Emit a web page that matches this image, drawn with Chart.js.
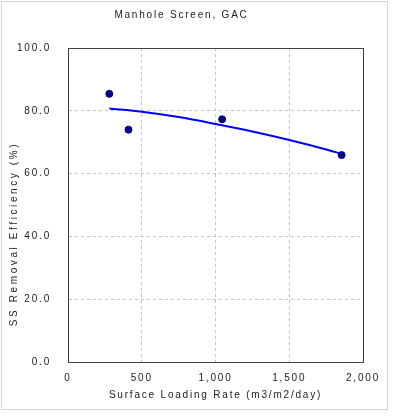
<!DOCTYPE html>
<html>
<head>
<meta charset="utf-8">
<script src="https://cdn.jsdelivr.net/npm/chart.js@4.4.0/dist/chart.umd.min.js"></script>
<style>
  html, body { margin: 0; padding: 0; background: #fff; }
  #wrap { width: 393px; height: 417px; }
</style>
</head>
<body>
<div id="wrap"><canvas id="chart" width="393" height="417"></canvas></div>
<script>
const loadingRate = [280, 410, 1045, 1855];
const efficiency = [85.4, 74.0, 77.3, 65.9];

const trendRate = [280, 500, 750, 1000, 1250, 1500, 1750, 1855];
const trendEff = [80.7, 79.7, 78.0, 75.8, 73.4, 70.7, 67.7, 66.3];

const xTicks = [0, 500, 1000, 1500, 2000];
const yTicks = [0, 20, 40, 60, 80, 100];

const textFont = { family: '"Liberation Sans Narrow", "Liberation Sans", Arial, sans-serif', size: 10, weight: 'normal' };
const spacing = '1.8px';

const spacingPlugin = {
    id: 'spacing',
    beforeUpdate(chart) { chart.ctx.letterSpacing = spacing; },
    beforeDraw(chart) { chart.ctx.letterSpacing = spacing; }
};

const framePlugin = {
    id: 'frame',
    beforeDraw(chart) {
        const ctx = chart.ctx;
        ctx.save();
        ctx.strokeStyle = '#d6d6d6';
        ctx.lineWidth = 1;
        ctx.strokeRect(1.5, 1.5, 386, 408);
        ctx.restore();
    },
    afterDraw(chart) {
        const ctx = chart.ctx;
        const a = chart.chartArea;
        ctx.save();
        ctx.strokeStyle = '#404040';
        ctx.lineWidth = 1;
        ctx.strokeRect(Math.round(a.left) + 0.5, Math.round(a.top) + 0.5, Math.round(a.right - a.left), Math.round(a.bottom - a.top));
        // y axis title
        ctx.letterSpacing = '2.6px';
        ctx.fillStyle = '#222';
        ctx.font = '10px ' + textFont.family;
        ctx.translate(14, 234);
        ctx.rotate(-Math.PI / 2);
        ctx.textAlign = 'center';
        ctx.textBaseline = 'middle';
        ctx.fillText('SS Removal Efficiency (%)', 0, 0);
        ctx.restore();
    }
};

new Chart(document.getElementById('chart'), {
    type: 'scatter',
    data: {
        datasets: [{
            label: 'Data',
            data: loadingRate.map((x, i) => ({ x: x, y: efficiency[i] })),
            backgroundColor: '#000080',
            borderColor: '#000080',
            pointRadius: 3.5,
            order: 1
        }, {
            label: 'Trend',
            type: 'line',
            data: trendRate.map((x, i) => ({ x: x, y: trendEff[i] })),
            borderColor: '#0000ff',
            borderWidth: 2,
            pointRadius: 0,
            fill: false,
            cubicInterpolationMode: 'monotone',
            order: 2
        }]
    },
    options: {
        responsive: false,
        animation: false,
        layout: { padding: { left: 0, right: 30, top: 0, bottom: 16 } },
        plugins: {
            legend: { display: false },
            tooltip: { enabled: false },
            title: {
                display: true,
                text: 'Manhole Screen, GAC',
                color: '#222',
                font: textFont,
                padding: { top: 9, bottom: 27 }
            }
        },
        scales: {
            x: {
                type: 'linear',
                min: 0,
                max: 2000,
                afterBuildTicks: s => { s.ticks = xTicks.map(v => ({ value: v })); },
                afterFit: s => { s.height = 39; },
                ticks: {
                    color: '#222',
                    font: textFont,
                    padding: 10,
                    maxRotation: 0,
                    callback: v => v.toLocaleString('en-US')
                },
                grid: { color: '#c4c4c4', drawTicks: false },
                border: { color: '#404040', dash: [3, 3] },
                title: {
                    display: true,
                    text: 'Surface Loading Rate (m3/m2/day)',
                    color: '#222',
                    font: textFont,
                    padding: { top: 0, bottom: 0 }
                }
            },
            y: {
                min: 0,
                max: 100,
                afterBuildTicks: s => { s.ticks = yTicks.map(v => ({ value: v })); },
                afterFit: s => { s.width = 68; },
                ticks: {
                    color: '#222',
                    font: textFont,
                    padding: 17,
                    callback: v => v.toFixed(1)
                },
                grid: { color: '#c4c4c4', drawTicks: false },
                border: { color: '#404040', dash: [3, 3] }
            }
        }
    },
    plugins: [spacingPlugin, framePlugin]
});
</script>
</body>
</html>
